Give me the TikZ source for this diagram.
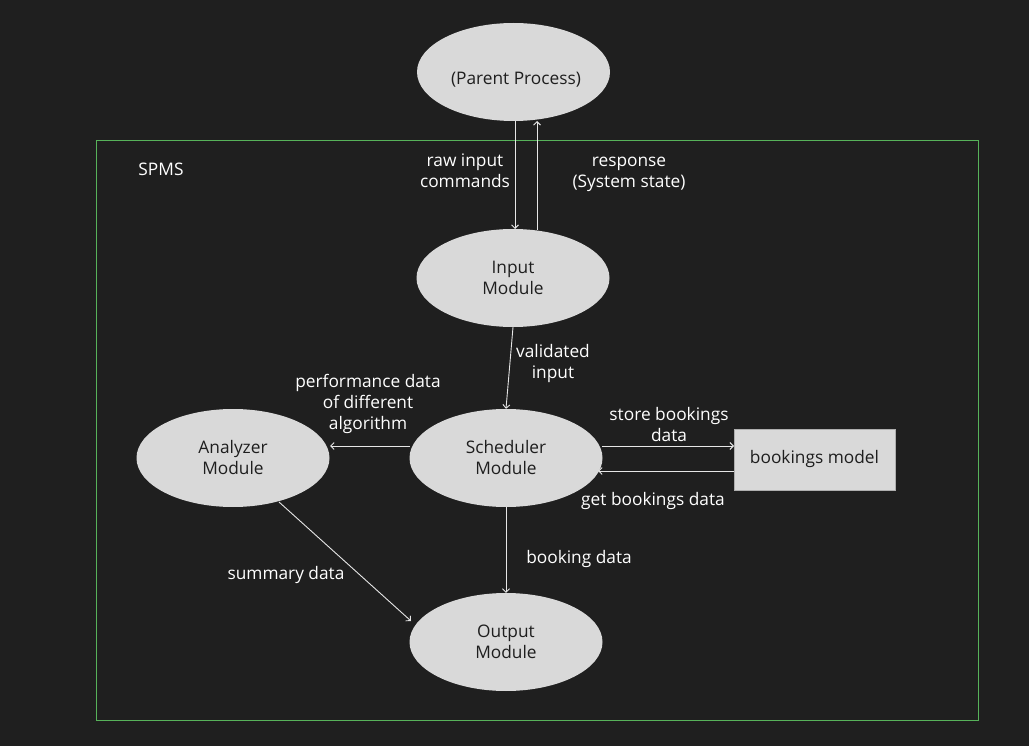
\documentclass[tikz,border=0pt]{standalone}
\usepackage{fontspec}
\setmainfont{Open Sans}
\usetikzlibrary{arrows.meta,shapes.geometric}
\definecolor{bg}{HTML}{1F1F1F}
\definecolor{shape}{HTML}{D9D9D9}
\definecolor{ink}{HTML}{1E1E1E}
\definecolor{line}{HTML}{E6E6E6}
\definecolor{frame}{HTML}{57B25A}
\begin{document}
\begin{tikzpicture}[x=1pt,y=-1pt,
  every node/.style={font=\fontsize{17.3}{21}\selectfont},
  module/.style={ellipse,fill=shape,text=ink,minimum width=193pt,minimum height=98pt,inner sep=0pt,align=center},
  store/.style={rectangle,fill=shape,draw=shape!80!black,text=ink,minimum width=161pt,minimum height=61pt,inner sep=0pt},
  lbl/.style={text=white,align=center,inner sep=0pt},
  flow/.style={draw=line,line width=0.9pt,-{Straight Barb[length=3.5pt,width=7pt]}}]
\useasboundingbox[fill=bg] (0,0) rectangle (1029,746);
% system boundary
\draw[frame,line width=1pt] (96,141) rectangle (978,720);
\node[lbl] (spms) at (161,169) {SPMS};
% modules
\node[module] (parent) at (513.5,72) {};
\node[text=ink,inner sep=0pt] (parenttext) at (516,80) {(Parent Process)};
\node[module] (input) at (513,278) {Input\\Module};
\node[module] (sched) at (506,458) {Scheduler\\Module};
\node[module] (anal) at (233,458) {Analyzer\\Module};
\node[module] (out) at (506,642) {Output\\Module};
\node[store] (model) at (814.5,459.5) {bookings model};
% anchor points for the flows
\coordinate (p1) at (515,121);
\coordinate (i1) at (515,229);
\coordinate (i2) at (537,230);
\coordinate (p2) at (537,121);
\draw[flow] (p1) -- (i1);
\draw[flow] (i2) -- (p2);
\draw[flow] (input.south) -- (sched.north);
\coordinate (s1) at (410,446);
\coordinate (a1) at (330,446);
\draw[flow] (s1) -- (a1);
\coordinate (s2) at (602,446);
\coordinate (m1) at (734,446);
\draw[flow] (s2) -- (m1);
\coordinate (m2) at (734,471);
\coordinate (s3) at (598,471);
\draw[flow] (m2) -- (s3);
\draw[flow] (sched.south) -- (out.north);
\coordinate (a2) at (279,502);
\coordinate (o1) at (411,621);
\draw[flow] (a2) -- (o1);
% flow labels
\node[lbl] (l1) at (465,171) {raw input\\commands};
\node[lbl] (l2) at (629,174) {response\\(System state)};
\node[lbl] (l3) at (553,364) {validated\\input};
\node[lbl] (l4) at (368,404) {performance data\\of different\\algorithm};
\node[lbl] (l5) at (669,425) {store bookings\\data};
\node[lbl] (l6) at (653,501) {get bookings data};
\node[lbl] (l7) at (579,559) {booking data};
\node[lbl] (l8) at (286,575) {summary data};
\end{tikzpicture}
\end{document}
